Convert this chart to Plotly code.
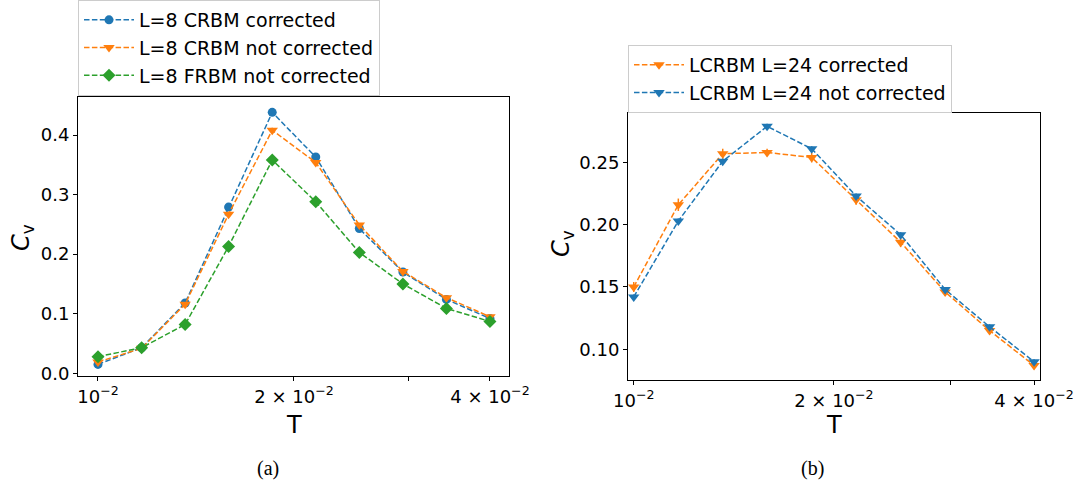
import plotly.graph_objects as go

W, H = 1078, 487

# Temperatures (shared by both panels)
T = [0.01, 0.01167, 0.01361, 0.01587, 0.01852, 0.02160, 0.02520, 0.02940, 0.03429, 0.04]

# Panel (a)
cv_crbm_corr = [0.015, 0.043, 0.118, 0.279, 0.438, 0.363, 0.243, 0.170, 0.124, 0.092]
err_crbm_corr = [0.002, 0.002, 0.002, 0.003, 0.003, 0.003, 0.002, 0.002, 0.002, 0.002]
cv_crbm_nc = [0.019, 0.042, 0.116, 0.267, 0.408, 0.354, 0.249, 0.171, 0.127, 0.095]
err_crbm_nc = [0.003, 0.002, 0.003, 0.004, 0.004, 0.004, 0.003, 0.002, 0.002, 0.002]
cv_frbm_nc = [0.028, 0.043, 0.082, 0.213, 0.358, 0.288, 0.203, 0.150, 0.109, 0.087]
err_frbm_nc = [0.002, 0.002, 0.002, 0.002, 0.003, 0.003, 0.002, 0.002, 0.002, 0.002]

# Panel (b)
cv_lc_corr = [0.150, 0.216, 0.257, 0.258, 0.254, 0.220, 0.186, 0.146, 0.115, 0.087]
err_lc_corr = [0.004, 0.005, 0.004, 0.003, 0.004, 0.004, 0.004, 0.003, 0.003, 0.003]
cv_lc_nc = [0.142, 0.203, 0.251, 0.279, 0.261, 0.223, 0.192, 0.148, 0.118, 0.090]
err_lc_nc = [0.002, 0.002, 0.002, 0.002, 0.002, 0.002, 0.002, 0.002, 0.002, 0.002]

BLUE, ORANGE, GREEN = "#1f77b4", "#ff7f0e", "#2ca02c"
FONT = "DejaVu Sans"
DASH = "5.5px,2.4px"


def px_x(p):
    return p / W


def px_y(p):
    return 1 - p / H


def trace(x, y, err, color, symbol, size, name, xa, ya, legend):
    return go.Scatter(
        x=x, y=y, name=name, mode="lines+markers",
        xaxis=xa, yaxis=ya, legend=legend,
        line=dict(color=color, width=1.5, dash=DASH),
        marker=dict(color=color, symbol=symbol, size=size, line=dict(width=0)),
        error_y=dict(type="data", array=err, visible=True, color=color,
                     thickness=1.5, width=0),
        legendgroup=name,
    )


fig = go.Figure()
fig.add_trace(trace(T, cv_crbm_corr, err_crbm_corr, BLUE, "circle", 9,
                    "L=8 CRBM corrected", "x", "y", "legend"))
fig.add_trace(trace(T, cv_crbm_nc, err_crbm_nc, ORANGE, "triangle-down", 10,
                    "L=8 CRBM not corrected", "x", "y", "legend"))
fig.add_trace(trace(T, cv_frbm_nc, err_frbm_nc, GREEN, "diamond", 10,
                    "L=8 FRBM not corrected", "x", "y", "legend"))
fig.add_trace(trace(T, cv_lc_corr, err_lc_corr, ORANGE, "triangle-down", 10,
                    "LCRBM L=24 corrected", "x2", "y2", "legend2"))
fig.add_trace(trace(T, cv_lc_nc, err_lc_nc, BLUE, "triangle-down", 10,
                    "LCRBM L=24 not corrected", "x2", "y2", "legend2"))

xticks = [0.01, 0.02, 0.03, 0.04]
xticktext = ["10<sup>−2</sup>", "2 × 10<sup>−2</sup>", "", "4 × 10<sup>−2</sup>"]

common_axis = dict(
    showline=True, linecolor="black", linewidth=1, mirror=True,
    ticks="outside", ticklen=4, tickwidth=1, tickcolor="black",
    showgrid=False, zeroline=False, automargin=False,
    tickfont=dict(family=FONT, size=18, color="black"),
)

legend_style = dict(
    xanchor="left", yanchor="top",
    bgcolor="rgba(255,255,255,0.8)", bordercolor="#cccccc", borderwidth=1,
    font=dict(family=FONT, size=19, color="black"),
    itemwidth=50, tracegroupgap=0,
)

fig.update_layout(
    width=W, height=H,
    margin=dict(l=0, r=0, t=0, b=0),
    paper_bgcolor="white", plot_bgcolor="white",
    template="none",
    font=dict(family=FONT, size=18, color="black"),
    xaxis=dict(common_axis, type="log", domain=[px_x(78), px_x(509)],
               range=[-2.0307, -1.3687], tickvals=xticks, ticktext=xticktext,
               anchor="y"),
    yaxis=dict(common_axis, domain=[px_y(376), px_y(97)], range=[-0.0045, 0.4638],
               tickvals=[0.0, 0.1, 0.2, 0.3, 0.4], tickformat=".1f", anchor="x"),
    xaxis2=dict(common_axis, type="log", domain=[px_x(628), px_x(1040)],
                range=[-2.0086, -1.389], tickvals=xticks, ticktext=xticktext,
                anchor="y2"),
    yaxis2=dict(common_axis, domain=[px_y(380), px_y(113)], range=[0.0753, 0.2897],
                tickvals=[0.10, 0.15, 0.20, 0.25], tickformat=".2f", anchor="x2"),
    legend=dict(legend_style, x=px_x(78), y=px_y(0)),
    legend2=dict(legend_style, x=px_x(628), y=px_y(45)),
    showlegend=True,
)

annos = [
    dict(text="<i>C</i><sub>v</sub>", x=px_x(22), y=px_y(238), textangle=-90, size=24),
    dict(text="<i>C</i><sub>v</sub>", x=px_x(562), y=px_y(244), textangle=-90, size=24),
    dict(text="T", x=px_x(294), y=px_y(425), textangle=0, size=24),
    dict(text="T", x=px_x(834), y=px_y(425), textangle=0, size=24),
]
for a in annos:
    fig.add_annotation(text=a["text"], x=a["x"], y=a["y"], xref="paper", yref="paper",
                       xanchor="center", yanchor="middle", textangle=a["textangle"],
                       showarrow=False, font=dict(family=FONT, size=a["size"], color="black"))

for txt, cx in [("(a)", 268), ("(b)", 812)]:
    fig.add_annotation(text=txt, x=px_x(cx), y=px_y(468), xref="paper", yref="paper",
                       xanchor="center", yanchor="middle", showarrow=False,
                       font=dict(family="Liberation Serif", size=20, color="black"))

fig.write_html("out.html", config={"displayModeBar": False},
               post_script="document.body.style.margin='0';")
